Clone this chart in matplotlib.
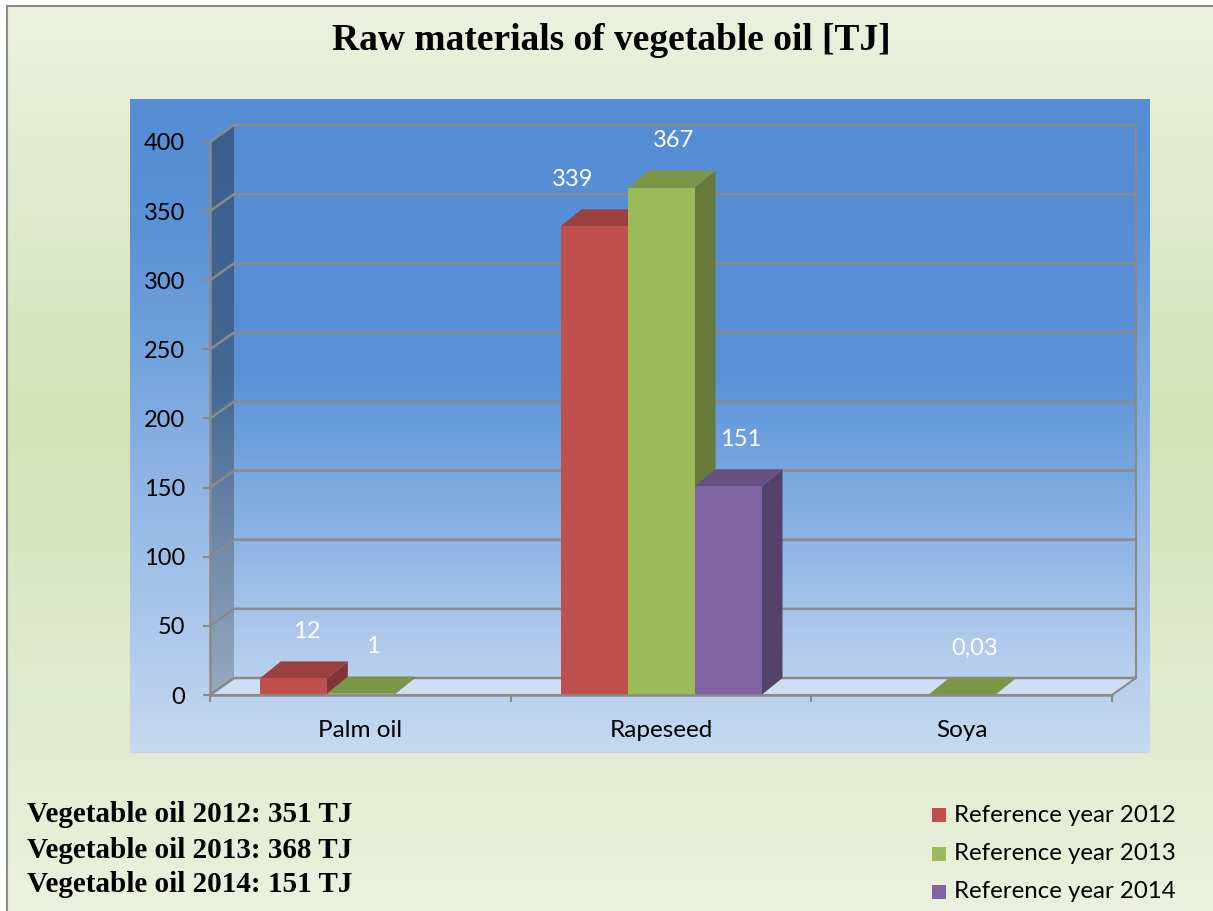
import numpy as np
import matplotlib
matplotlib.use("Agg")
import matplotlib.pyplot as plt
from matplotlib.colors import LinearSegmentedColormap, to_rgb
from matplotlib.patches import Polygon, Rectangle

# chart data
categories = ["Palm oil", "Rapeseed", "Soya"]
series_names = ["Reference year 2012", "Reference year 2013", "Reference year 2014"]
values_2012 = [12, 339, np.nan]
values_2013 = [1, 367, 0.03]
values_2014 = [np.nan, 151, np.nan]
totals_text = ["Vegetable oil 2012: 351 TJ",
               "Vegetable oil 2013: 368 TJ",
               "Vegetable oil 2014: 151 TJ"]
title = "Raw materials of vegetable oil [TJ]"
y_ticks = list(range(0, 401, 50))

series_values = [values_2012, values_2013, values_2014]
series_colors = ["#C0504D", "#9BBB59", "#8064A2"]

W, H = 1213, 911
DPI = 100

# pixel geometry of the front axis
X0_PX, X3_PX = 210, 1112
Y0_PX, Y400_PX = 695, 142
PX_X = (X3_PX - X0_PX) / 3.0
PX_Y = (Y0_PX - Y400_PX) / 400.0

WALL_DX = 24 / PX_X
WALL_DY = 17 / PX_Y
BAR_DX = 21 / PX_X
BAR_DY = 17 / PX_Y
BAR_W = 67 / PX_X
GRID = "#8A8A8A"
TICK_FONT = "Lato"
SERIF = "Liberation Serif"
FS = 17


def px_box(x0, y0, x1, y1):
    return [x0 / W, 1 - y1 / H, (x1 - x0) / W, (y1 - y0) / H]


def shade(color, f):
    r, g, b = to_rgb(color)
    return (r * f, g * f, b * f)


def gradient(ax, stops, extent, clip=None, z=0):
    cmap = LinearSegmentedColormap.from_list("g", stops)
    grad = np.linspace(0, 1, 256).reshape(-1, 1)
    im = ax.imshow(grad, cmap=cmap, extent=extent, aspect="auto",
                   origin="upper", interpolation="bilinear", zorder=z)
    if clip is not None:
        im.set_clip_path(clip)
    return im


fig = plt.figure(figsize=(W / DPI, H / DPI), dpi=DPI)
fig.patch.set_facecolor("white")

# outer green background with grey frame
bg = fig.add_axes(px_box(7, 6, W + 10, H + 10))
gradient(bg, [(0, "#EBF1DE"), (0.45, "#D4E2B8"), (1, "#EBF1DE")], [0, 1, 0, 1])
bg.set_xlim(0, 1)
bg.set_ylim(0, 1)
bg.set_xticks([])
bg.set_yticks([])
for s in bg.spines.values():
    s.set_color("#8C8C8C")
    s.set_linewidth(1.5)

# blue chart panel
panel = fig.add_axes(px_box(130, 99, 1150, 753))
gradient(panel, [(0, "#548DD4"), (0.2, "#5A92D6"), (1, "#C6D9F1")], [0, 1, 0, 1])
panel.set_xlim(0, 1)
panel.set_ylim(0, 1)
panel.axis("off")

# main plotting axes (front axis at x=0..3, y=0..400)
ymax = 400 + WALL_DY + 2
xmax = 3 + WALL_DX + 0.005
ax = fig.add_axes(px_box(X0_PX, Y0_PX - ymax * PX_Y, X0_PX + xmax * PX_X, Y0_PX))
ax.set_facecolor("none")
ax.set_xlim(0, xmax)
ax.set_ylim(0, ymax)

# back wall
back = Rectangle((WALL_DX, WALL_DY), 3, 400, facecolor="none", edgecolor="none")
ax.add_patch(back)
gradient(ax, [(0, "#548DD4"), (0.45, "#5992D8"), (1, "#BAD1EE")],
         [WALL_DX, 3 + WALL_DX, WALL_DY, 400 + WALL_DY], clip=back)

# side wall
side = Polygon([(0, 0), (0, 400), (WALL_DX, 400 + WALL_DY), (WALL_DX, WALL_DY)],
               closed=True, facecolor="none", edgecolor="none")
ax.add_patch(side)
gradient(ax, [(0, "#3A5E8E"), (0.45, "#436894"), (1, "#98A9BE")],
         [0, WALL_DX, 0, 400 + WALL_DY], clip=side)

# floor
ax.add_patch(Polygon([(0, 0), (3, 0), (3 + WALL_DX, WALL_DY), (WALL_DX, WALL_DY)],
                     closed=True, facecolor="#CFDFF3", edgecolor=GRID, lw=1.5, zorder=1))

# gridlines on side and back wall
for v in y_ticks:
    ax.plot([0, WALL_DX, 3 + WALL_DX], [v, v + WALL_DY, v + WALL_DY],
            color=GRID, lw=1.8, zorder=1, solid_capstyle="butt")
ax.plot([3 + WALL_DX, 3 + WALL_DX], [WALL_DY, 400 + WALL_DY], color=GRID, lw=1.5, zorder=1)

# 3d bars, left to right
for ci in range(len(categories)):
    for si, vals in enumerate(series_values):
        v = vals[ci]
        if np.isnan(v):
            continue
        col = series_colors[si]
        x0 = ci + 0.5 - 1.5 * BAR_W + si * BAR_W
        x1 = x0 + BAR_W
        ax.add_patch(Polygon([(x1, 0), (x1 + BAR_DX, BAR_DY), (x1 + BAR_DX, v + BAR_DY), (x1, v)],
                             closed=True, facecolor=shade(col, 0.66), edgecolor="none", zorder=3))
        ax.add_patch(Polygon([(x0, v), (x1, v), (x1 + BAR_DX, v + BAR_DY), (x0 + BAR_DX, v + BAR_DY)],
                             closed=True, facecolor=shade(col, 0.8), edgecolor="none", zorder=3))
        ax.add_patch(Rectangle((x0, 0), BAR_W, v, facecolor=col, edgecolor="none", zorder=3))

# data labels
label_nudge = {(0, 1): -34}
for ci in range(len(categories)):
    for si, vals in enumerate(series_values):
        v = vals[ci]
        if np.isnan(v):
            continue
        xc = ci + 0.5 - 1.5 * BAR_W + (si + 0.5) * BAR_W
        xc += (13 + label_nudge.get((si, ci), 0)) / PX_X
        txt = f"{v:g}".replace(".", ",")
        ax.text(xc, v + 47 / PX_Y, txt, color="white", fontsize=FS, family=TICK_FONT,
                ha="center", va="center", zorder=5)

# axes, ticks
for k in ["top", "right"]:
    ax.spines[k].set_visible(False)
ax.spines["left"].set_bounds(0, 400)
ax.spines["bottom"].set_bounds(0, 3)
for k in ["left", "bottom"]:
    ax.spines[k].set_color(GRID)
    ax.spines[k].set_linewidth(1.8)
    ax.spines[k].set_zorder(4)

ax.set_yticks(y_ticks)
ax.set_yticklabels([str(t) for t in y_ticks], family=TICK_FONT, fontsize=FS)
ax.tick_params(axis="y", length=5, width=1.5, color=GRID, pad=13, labelcolor="black")
ax.set_xticks([0, 1, 2, 3])
ax.set_xticklabels([])
ax.tick_params(axis="x", which="major", length=5, width=1.5, color=GRID)
ax.set_xticks([0.5, 1.5, 2.5], minor=True)
ax.set_xticklabels(categories, minor=True, family=TICK_FONT, fontsize=FS + 0.5)
ax.tick_params(axis="x", which="minor", length=0, pad=18)

# title
fig.text(611 / W, 1 - 41 / H, title, family=SERIF, weight="bold", fontsize=27,
         ha="center", va="center")

# totals in the lower left
for i, t in enumerate(totals_text):
    fig.text(27 / W, 1 - (815 + 35 * i) / H, t, family=SERIF, weight="bold",
             fontsize=21, ha="left", va="center")

# legend
for i, (name, col) in enumerate(zip(series_names, series_colors)):
    yc = 815 + 38.5 * i
    fig.patches.append(Rectangle((932 / W, 1 - (yc + 7) / H), 14 / W, 14 / H,
                                 transform=fig.transFigure, facecolor=col, edgecolor="none"))
    fig.text(954 / W, 1 - yc / H, name, family=TICK_FONT, fontsize=FS + 0.3,
             ha="left", va="center")

fig.savefig("out.png", dpi=DPI)
